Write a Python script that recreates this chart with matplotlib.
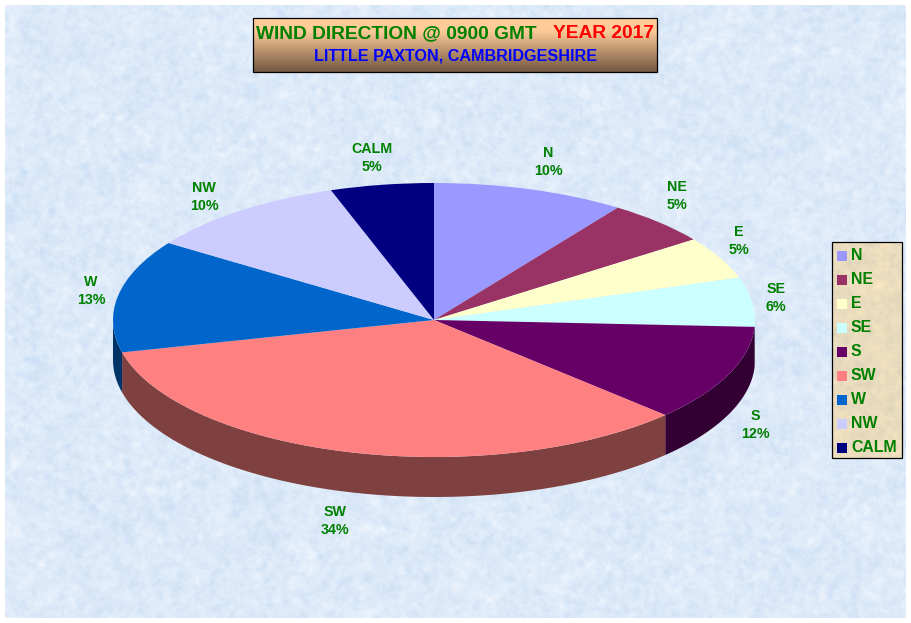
import numpy as np
import matplotlib
matplotlib.use('Agg')
import matplotlib.pyplot as plt
from matplotlib.patches import Rectangle

plt.rcParams['font.family'] = ['Liberation Sans', 'DejaVu Sans']

categories = ['N', 'NE', 'E', 'SE', 'S', 'SW', 'W', 'NW', 'CALM']
slice_values = [9.7, 5.3, 5.0, 5.8, 11.4, 34.0, 13.3, 10.3, 5.2]
percent_labels = ['10%', '5%', '5%', '6%', '12%', '34%', '13%', '10%', '5%']
top_colors = ['#9999FF', '#993366', '#FFFFCC', '#CCFFFF', '#660066',
              '#FF8080', '#0066CC', '#CCCCFF', '#000080']
side_colors = ['#4C4C7F', '#4C1933', '#7F7F66', '#667F7F', '#330033',
               '#7F4040', '#003366', '#66667F', '#000040']

# label centres in pixels
label_x = [548, 677, 739, 776, 755, 335, 91, 204, 372]
label_y = [162, 196, 241, 298, 425, 521, 291, 197, 158]

W, H = 911, 623
CX, CY, RX, RY, DEPTH = 434, 320, 321, 137, 40
GREEN = '#008000'


def texture(h, w, base, amount, seed):
    # mottled paper look for the backgrounds, nothing to do with the data
    rng = np.random.default_rng(seed)
    out = np.zeros((h, w))
    fy = np.fft.fftfreq(h)[:, None]
    fx = np.fft.rfftfreq(w)[None, :]
    for sigma, weight in [(1.0, 0.6), (2.5, 0.9), (8.0, 0.4)]:
        f = np.fft.rfft2(rng.normal(size=(h, w)))
        f *= np.exp(-2 * (np.pi * sigma) ** 2 * (fx ** 2 + fy ** 2))
        n = np.fft.irfft2(f, s=(h, w))
        out += weight * n / n.std()
    rgb = np.array(matplotlib.colors.to_rgb(base))
    img = rgb[None, None, :] + (out * amount)[:, :, None] * np.array([1.1, 0.7, 0.25])
    return np.clip(img, 0, 1)


fig = plt.figure(figsize=(W / 100, H / 100), dpi=100, facecolor='white')

# page layer, in pixel coordinates
bg = fig.add_axes([0, 0, 1, 1])
bg.imshow(texture(613, 901, '#DDEAF9', 0.014, 3), extent=(5, 906, 618, 5),
          aspect='auto', interpolation='bilinear')

# title box
grad = np.linspace(0, 1, 54)[:, None, None]
top = np.array(matplotlib.colors.to_rgb('#FFCC99'))
bottom = np.array(matplotlib.colors.to_rgb('#735843'))
stops = np.clip((grad - 0.22) / 0.78, 0, 1)
bg.imshow(top * (1 - stops) + bottom * stops, extent=(253, 657, 72, 18),
          aspect='auto', interpolation='bilinear')
bg.add_patch(Rectangle((253, 18), 404, 54, fill=False, ec='black', lw=0.9))
bg.text(256, 34, 'WIND DIRECTION @ 0900 GMT', color=GREEN, fontsize=13.8,
        fontweight='bold', ha='left', va='center')
bg.text(654, 34, 'YEAR 2017', color='#FF0000', fontsize=13.8,
        fontweight='bold', ha='right', va='center')
bg.text(455.5, 56, 'LITTLE PAXTON, CAMBRIDGESHIRE', color='#0000FF', fontsize=11.6,
        fontweight='bold', ha='center', va='center')

# legend box
bg.imshow(texture(216, 70, '#EADCBE', 0.014, 8), extent=(832, 902, 458, 242),
          aspect='auto', interpolation='bilinear')
bg.add_patch(Rectangle((832, 242), 70, 216, fill=False, ec='black', lw=0.9))
for i, name in enumerate(categories):
    y = 256 + i * 24.0
    bg.add_patch(Rectangle((837, y - 5), 10, 10, fc=top_colors[i], ec='none'))
    bg.text(851, y, name, color=GREEN, fontsize=11.4, fontweight='bold',
            ha='left', va='center')

# slice labels
for i, name in enumerate(categories):
    bg.text(label_x[i], label_y[i], name + '\n' + percent_labels[i], color=GREEN,
            fontsize=10.3, fontweight='bold', ha='center', va='center', linespacing=1.38)

bg.set_xlim(0, W)
bg.set_ylim(H, 0)
bg.axis('off')

# pie layer, one unit is one radius on both axes so the circle comes out flat
pie_ax = fig.add_axes([(CX - RX) / W, (H - CY - RY - DEPTH) / H, 2 * RX / W, (2 * RY + DEPTH) / H])
pie_ax.patch.set_alpha(0)
depth_units = DEPTH / RY

wedges, _ = pie_ax.pie(slice_values, colors=top_colors, startangle=90, counterclock=False,
                       radius=1, wedgeprops={'linewidth': 0})
for w in wedges:
    w.set_zorder(3)

# side wall, only where the rim faces the viewer
edges = np.cumsum([0] + slice_values) / sum(slice_values) * 360
for i in range(len(categories)):
    a0, a1 = max(edges[i], 90), min(edges[i + 1], 270)
    if a1 <= a0:
        continue
    t = np.radians(np.linspace(a0, a1, 80))
    xs = np.sin(t)
    ys = np.cos(t)
    pie_ax.fill(np.r_[xs, xs[::-1]], np.r_[ys, ys[::-1] - depth_units],
                color=side_colors[i], lw=0, zorder=2)

pie_ax.set_aspect('auto')
pie_ax.set_xlim(-1, 1)
pie_ax.set_ylim(-1 - depth_units, 1)
pie_ax.axis('off')

fig.savefig('out.png', dpi=100)
